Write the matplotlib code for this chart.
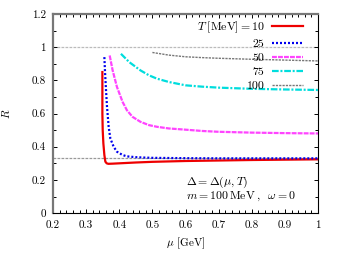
import matplotlib
matplotlib.use("Agg")
import matplotlib.pyplot as plt
import numpy as np
from matplotlib.ticker import MultipleLocator

plt.rcParams['font.family'] = 'serif'
plt.rcParams['font.serif'] = ['cmr10', 'DejaVu Serif']
plt.rcParams['mathtext.fontset'] = 'cm'
plt.rcParams['axes.formatter.use_mathtext'] = True

# curves: mu [GeV] and R
mu_10 = [0.349, 0.349, 0.350, 0.352, 0.355, 0.358, 0.362, 0.367, 0.38, 0.40, 0.45, 0.5, 0.6, 0.7, 0.8, 0.9, 1.0]
r_10 = [0.85, 0.60, 0.50, 0.42, 0.35, 0.310, 0.300, 0.297, 0.298, 0.300, 0.305, 0.309, 0.314, 0.317, 0.320, 0.322, 0.324]

mu_25 = [0.355, 0.357, 0.360, 0.363, 0.368, 0.373, 0.383, 0.393, 0.41, 0.423, 0.45, 0.47, 0.5, 0.6, 0.7, 0.8, 0.9, 1.0]
r_25 = [0.94, 0.85, 0.74, 0.64, 0.52, 0.45, 0.40, 0.37, 0.35, 0.342, 0.337, 0.335, 0.333, 0.331, 0.330, 0.330, 0.330, 0.330]

mu_50 = [0.371, 0.38, 0.393, 0.41, 0.423, 0.44, 0.464, 0.49, 0.514, 0.55, 0.585, 0.65, 0.7, 0.8, 0.9, 1.0]
r_50 = [0.95, 0.86, 0.76, 0.67, 0.62, 0.58, 0.55, 0.53, 0.52, 0.51, 0.505, 0.495, 0.49, 0.485, 0.482, 0.48]

mu_75 = [0.405, 0.43, 0.464, 0.49, 0.514, 0.55, 0.6, 0.65, 0.7, 0.8, 0.9, 1.0]
r_75 = [0.96, 0.91, 0.86, 0.83, 0.81, 0.79, 0.77, 0.762, 0.756, 0.749, 0.745, 0.742]

mu_100 = [0.5, 0.55, 0.6, 0.65, 0.7, 0.8, 0.9, 1.0]
r_100 = [0.968, 0.952, 0.942, 0.937, 0.933, 0.927, 0.922, 0.917]

legend_labels = [r'$T\;[\mathrm{MeV}] = 10$', '25', '50', '75', '100']

fig = plt.figure(figsize=(3.42, 2.54), dpi=100)
ax = fig.add_axes([0.155, 0.161, 0.775, 0.784])

ax.axhline(1.0, color='#bbbbbb', lw=0.9, dashes=(2.2, 1.0), zorder=1)
ax.axhline(1.0 / 3, color='#999999', lw=0.9, dashes=(2.2, 1.0), zorder=1)

ax.plot(mu_10, r_10, color='#ee0000', lw=1.6, label=legend_labels[0])
ax.plot(mu_25, r_25, color='#0000ee', lw=1.6, ls=(0, (0.9, 0.9)), label=legend_labels[1])
ax.plot(mu_50, r_50, color='#ff44ff', lw=1.6, ls=(0, (2.2, 0.5)), label=legend_labels[2])
ax.plot(mu_75, r_75, color='#00dddd', lw=1.6, ls=(0, (3, 0.8, 0.9, 0.8)), label=legend_labels[3])
ax.plot(mu_100, r_100, color='#777777', lw=1.0, ls=(0, (1.6, 0.8)), label=legend_labels[4])

ax.set_xlim(0.2, 1.0)
ax.set_ylim(0, 1.2)
ax.xaxis.set_major_locator(MultipleLocator(0.1))
ax.xaxis.set_minor_locator(MultipleLocator(0.02))
ax.yaxis.set_major_locator(MultipleLocator(0.2))
ax.yaxis.set_minor_locator(MultipleLocator(0.1))
ax.xaxis.set_major_formatter(plt.FuncFormatter(lambda v, p: ('%g' % round(v, 2))))
ax.yaxis.set_major_formatter(plt.FuncFormatter(lambda v, p: ('%g' % round(v, 2))))
ax.tick_params(which='both', direction='in', top=True, right=True, labelsize=8, pad=5)
ax.tick_params(which='major', length=3, width=0.7)
ax.tick_params(which='minor', length=2, width=0.7)

for side in ['left', 'top']:
    ax.spines[side].set_color('#777777')
    ax.spines[side].set_linewidth(1.6)
for side in ['right', 'bottom']:
    ax.spines[side].set_color('black')
    ax.spines[side].set_linewidth(0.8)

ax.set_xlabel(r'$\mu$ [GeV]', fontsize=8, labelpad=4)
ax.set_ylabel(r'$R$', fontsize=8, labelpad=14)

ax.text(0.6, 0.185, r'$\Delta = \Delta(\mu, T)$', fontsize=8.5, ha='left', va='center')
ax.text(0.6, 0.104, r'$m = 100\,\mathrm{MeV}\;,\;\;\omega = 0$', fontsize=8.5, ha='left', va='center')

ax.legend(loc='upper right', bbox_to_anchor=(0.945, 0.972), frameon=False, markerfirst=False,
          fontsize=8.5, handlelength=2.7, handletextpad=0.6, labelspacing=0.31, borderaxespad=0, borderpad=0)

fig.savefig('out.png', dpi=100)
